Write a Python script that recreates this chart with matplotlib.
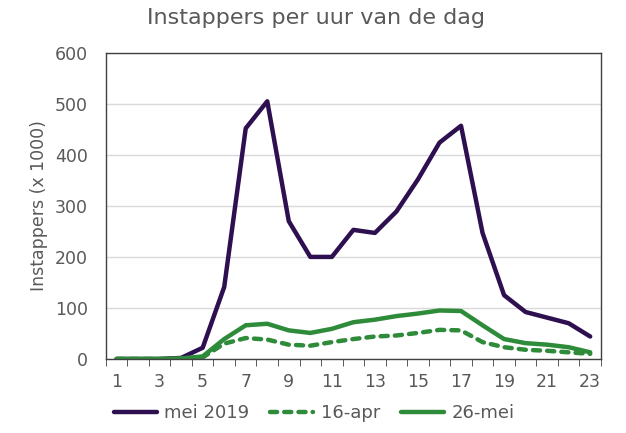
import numpy as np
import matplotlib
matplotlib.use('Agg')
import matplotlib.pyplot as plt

uren = list(range(1, 24))
mei_2019 = [0, 0, 0, 2, 22, 141, 452, 505, 270, 200, 200, 253, 247, 289, 352, 424, 457, 247, 125, 92, 81, 70, 44]
apr_16 = [0, 0, 0, 0, 3, 30, 41, 38, 28, 26, 33, 39, 44, 46, 51, 57, 56, 33, 23, 18, 16, 13, 10]
mei_26 = [0, 0, 0, 1, 5, 39, 66, 69, 56, 51, 59, 72, 77, 84, 89, 95, 94, 66, 39, 31, 28, 23, 13]
xlabels = [str(u) if u % 2 == 1 else '' for u in uren]

paars = '#2e0f4f'
groen = '#2e8b3a'
grijs = '#595959'

plt.rcParams['font.family'] = ['DejaVu Sans']

fig = plt.figure(figsize=(6.26, 4.33), dpi=100)
ax = fig.add_axes([0.169, 0.171, 0.791, 0.707])

ax.plot(uren, mei_2019, color=paars, lw=3.2, label='mei 2019', solid_capstyle='round')
ax.plot(uren, apr_16, color=groen, lw=3.2, ls=(0, (1.6, 1.6)), dash_capstyle='round', label='16-apr')
ax.plot(uren, mei_26, color=groen, lw=3.2, label='26-mei', solid_capstyle='round')

ax.set_xlim(0.5, 23.5)
ax.set_ylim(0, 600)
ax.set_yticks(range(0, 601, 100))
ax.yaxis.grid(True, color='#d9d9d9', lw=1)
ax.set_axisbelow(True)

# labels op de categorieen, streepjes ertussen
ax.set_xticks(uren)
ax.set_xticklabels(xlabels)
ax.set_xticks(np.arange(0.5, 24, 1), minor=True)
ax.tick_params(axis='x', which='major', length=0, labelsize=12.5, labelcolor=grijs, pad=10)
ax.tick_params(axis='x', which='minor', length=5, color='#404040', direction='out')
ax.tick_params(axis='y', length=0, labelsize=12.5, labelcolor=grijs, pad=13)

for s in ax.spines.values():
    s.set_color('#404040')
    s.set_linewidth(1)

ax.set_ylabel('Instappers (x 1000)', fontsize=12.5, color=grijs, labelpad=5)
fig.text(0.505, 0.958, 'Instappers per uur van de dag', ha='center', va='center',
         fontsize=16, color=grijs)

leg = fig.legend(loc='center left', bbox_to_anchor=(0.167, 0.046), ncol=3, frameon=False,
                 fontsize=13, handlelength=2.4, handletextpad=0.4, columnspacing=1.15,
                 borderpad=0)
for t in leg.get_texts():
    t.set_color(grijs)

fig.savefig('out.png', dpi=100)
